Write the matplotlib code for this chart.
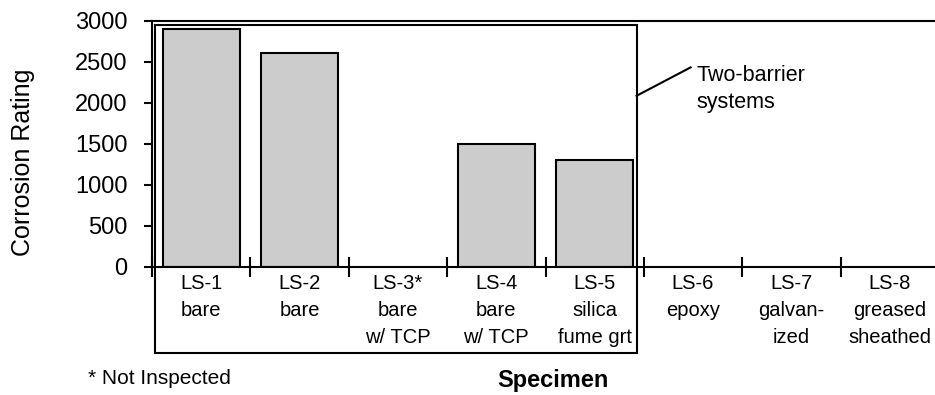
import matplotlib
matplotlib.use("Agg")
import matplotlib.pyplot as plt
from matplotlib.patches import Rectangle

plt.rcParams["font.family"] = ["Liberation Sans", "DejaVu Sans"]

# Data
specimens = ["LS-1", "LS-2", "LS-3*", "LS-4", "LS-5", "LS-6", "LS-7", "LS-8"]
descriptions = ["bare", "bare", "bare\nw/ TCP", "bare\nw/ TCP", "silica\nfume grt",
                "epoxy", "galvan-\nized", "greased\nsheathed"]
ratings = [2900, 2600, 0, 1500, 1300, 0, 0, 0]
inspected = [True, True, False, True, True, True, True, True]
y_ticks = [0, 500, 1000, 1500, 2000, 2500, 3000]

W, H = 935, 395
fig = plt.figure(figsize=(W / 100, H / 100), dpi=100)
ax = fig.add_axes([152 / W, 128.5 / H, 787 / W, 246 / H])

n = len(specimens)
centers = [i + 0.5 for i in range(n)]
bar_vals = [r if ok else 0 for r, ok in zip(ratings, inspected)]
for x, v in zip(centers, bar_vals):
    if v > 0:
        ax.bar(x, v, width=0.78, color="#cccccc", edgecolor="black", linewidth=1.5, zorder=2)

ax.set_xlim(0, n)
ax.set_ylim(0, 3000)

# y axis
ax.set_yticks(y_ticks)
ax.set_yticklabels([str(t) for t in y_ticks], fontsize=17)
ax.tick_params(axis="y", direction="out", length=5.5, width=1.5, pad=12)

# x axis: labels at category centres, dividers at category edges
ax.set_xticks(centers)
ax.set_xticklabels([f"{s}\n{d}" for s, d in zip(specimens, descriptions)],
                   fontsize=14.5, linespacing=1.54, va="top")
ax.tick_params(axis="x", which="major", length=0, pad=5.5)
ax.set_xticks(range(n + 1), minor=True)
ax.tick_params(axis="x", which="minor", direction="inout", length=14, width=1.5)

for side in ("left", "top", "bottom"):
    ax.spines[side].set_linewidth(1.5)
ax.spines["right"].set_visible(False)

ax.set_ylabel("Corrosion Rating", fontsize=18)
ax.yaxis.set_label_coords(-(152 - 35) / 787, 0.425)

# Group outline around the two-barrier systems
box = Rectangle((0.03, -1051), 4.9, 2950 + 1051, fill=False, edgecolor="black",
                linewidth=1.5, clip_on=False, zorder=3)
ax.add_patch(box)
ax.plot([4.926, 5.475], [2082, 2428], color="black", linewidth=1.5,
        clip_on=False, zorder=3)
ax.text(5.53, 2460, "Two-barrier\nsystems", fontsize=15.5, va="top", ha="left",
        linespacing=1.38)

fig.text(553 / W, 1 - 380 / H, "Specimen", fontsize=17, fontweight="bold",
         ha="center", va="center")
fig.text(88 / W, 1 - 378 / H, "* Not Inspected", fontsize=15, ha="left", va="center")

fig.savefig("out.png", dpi=100)
